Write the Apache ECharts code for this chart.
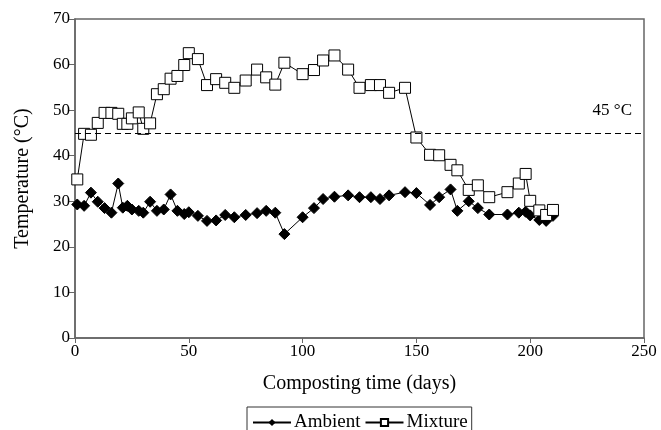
<!DOCTYPE html>
<html>
<head>
<meta charset="utf-8">
<script src="https://cdn.jsdelivr.net/npm/echarts@6/dist/echarts.min.js"></script>
<style>html,body{margin:0;padding:0;background:#fff}#c{width:661px;height:430px}</style>
</head>
<body>
<div id="c"></div>
<script>
var days = [1,4,7,10,13,16,19,21,23,25,28,30,33,36,39,42,45,48,50,54,58,62,66,70,75,80,84,88,92,100,105,109,114,120,125,130,134,138,145,150,156,160,165,168,173,177,182,190,195,198,200,204,207,210];
var ambient = [29.3,29.0,31.9,29.9,28.5,27.5,33.9,28.6,29.0,28.2,27.9,27.5,29.9,27.9,28.2,31.5,27.9,27.2,27.6,26.8,25.7,25.8,27.0,26.5,27.0,27.4,27.9,27.5,22.8,26.5,28.5,30.5,31.0,31.3,30.9,30.9,30.5,31.3,32.0,31.8,29.2,30.9,32.6,27.9,30.0,28.5,27.1,27.1,27.5,27.7,26.9,25.9,25.7,26.8];
var mixture = [34.8,44.8,44.6,47.2,49.4,49.4,49.2,47.0,47.0,48.2,49.5,45.9,47.1,53.5,54.6,56.9,57.5,59.9,62.5,61.2,55.5,56.8,56.0,54.9,56.5,58.9,57.2,55.6,60.4,57.9,58.8,60.9,62.0,58.9,54.9,55.5,55.5,53.8,54.9,44.0,40.2,40.1,38.0,36.8,32.5,33.5,30.9,32.0,33.9,36.0,30.1,28.0,27.0,28.1];
var threshold = 45;
var thresholdLabel = '45 °C';

function pairs(xs, ys){ return xs.map(function(x,i){ return [x, ys[i]]; }); }

var FONT = '"Liberation Serif", "DejaVu Serif", serif';
var chart = echarts.init(document.getElementById('c'), null, {renderer:'canvas'});
chart.setOption({
  animation: false,
  backgroundColor: '#fff',
  textStyle: {fontFamily: FONT, color: '#000'},
  grid: {left: 75, right: 17, top: 19, bottom: 92, show: true, borderColor: '#666', borderWidth: 1.5, backgroundColor: 'transparent'},
  xAxis: {
    type: 'value', min: 0, max: 250, interval: 50,
    name: 'Composting time (days)', nameLocation: 'middle', nameGap: 36,
    nameTextStyle: {fontFamily: FONT, fontSize: 20, color: '#000'},
    axisLine: {show: true, lineStyle: {color: '#666', width: 1.5}},
    axisTick: {show: true, length: 5, lineStyle: {color: '#666'}},
    axisLabel: {fontFamily: FONT, fontSize: 17, color: '#000', margin: 5},
    splitLine: {show: false}
  },
  yAxis: {
    type: 'value', min: 0, max: 70, interval: 10,
    name: 'Temperature (°C)', nameLocation: 'middle', nameGap: 42,
    nameTextStyle: {fontFamily: FONT, fontSize: 20, color: '#000'},
    axisLine: {show: true, lineStyle: {color: '#666', width: 1.5}},
    axisTick: {show: true, length: 6, lineStyle: {color: '#666'}},
    axisLabel: {fontFamily: FONT, fontSize: 17, color: '#000', margin: 5},
    splitLine: {show: false}
  },
  legend: {
    top: 407, left: 247,
    borderColor: '#333', borderWidth: 1, padding: [6, 4, 8, 5],
    itemGap: 4, itemWidth: 38, itemHeight: 9,
    textStyle: {fontFamily: FONT, fontSize: 19, color: '#000', padding: [0,0,0,-2]},
    data: ['Ambient', 'Mixture']
  },
  series: [
    {
      name: 'Ambient', type: 'line', data: pairs(days, ambient),
      symbol: 'diamond', symbolSize: 11,
      lineStyle: {color: '#000', width: 1},
      itemStyle: {color: '#000', borderColor: '#000'}
    },
    {
      name: 'Mixture', type: 'line', data: pairs(days, mixture),
      symbol: 'rect', symbolSize: 11,
      lineStyle: {color: '#000', width: 1},
      itemStyle: {color: '#fff', borderColor: '#000', borderWidth: 1},
      markLine: {
        silent: true, symbol: ['none','none'],
        lineStyle: {color: '#000', type: [6, 4], width: 1},
        label: {show: true, position: 'insideEndTop', formatter: thresholdLabel, fontFamily: FONT, fontSize: 17, color: '#000', distance: [12, 14]},
        data: [{yAxis: threshold}]
      }
    }
  ]
});
</script>
</body>
</html>
